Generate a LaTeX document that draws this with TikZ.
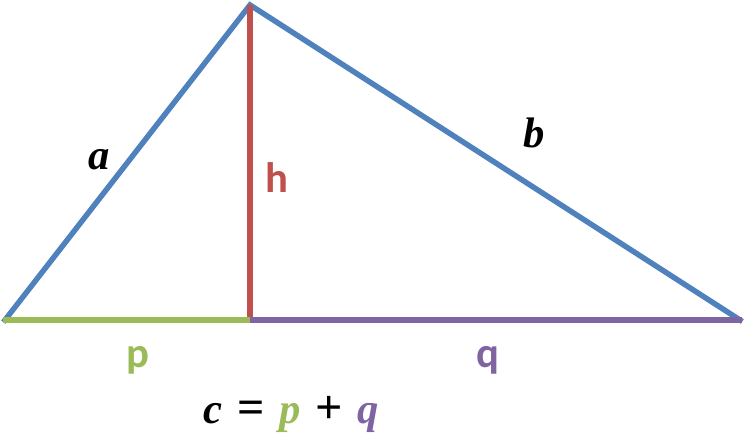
\documentclass[tikz,border=0pt]{standalone}
\usepackage{fontspec}
\newfontfamily\calibri{Carlito}
\newfontfamily\cambria{Liberation Serif}
\definecolor{sideblue}{RGB}{79,129,189}
\definecolor{heightred}{RGB}{192,80,77}
\definecolor{pgreen}{RGB}{155,187,89}
\definecolor{qpurple}{RGB}{128,100,162}
\newcommand{\oper}[1]{\hspace{3pt}{\upshape\fontsize{36}{40}\selectfont #1}\hspace{3pt}}
\tikzset{
  side/.style={line width=4.1pt, line cap=rect},
  sidelabel/.style={anchor=base, inner sep=0.75pt, font=\cambria\bfseries\itshape\fontsize{32}{38}\selectfont},
  partlabel/.style={anchor=base, inner sep=0.75pt, font=\calibri\bfseries\fontsize{32}{38}\selectfont}
}
\begin{document}
\begin{tikzpicture}[x=0.75pt,y=0.75pt,yscale=-1,xscale=1]
\useasboundingbox (0,0) rectangle (744,439);

% Corners
\coordinate (A) at (5,320);
\coordinate (C) at (250,5);
\coordinate (B) at (740,320);
\coordinate (H) at (250,320);

%Straight Lines
\draw [side, color=sideblue] (A) -- (C) -- (B) ;
%Straight Lines
\draw [side, color=heightred, line cap=butt] (C) -- (H) ;
%Straight Lines
\draw [side, color=pgreen, line cap=butt] (3,320) -- (H) ;
%Straight Lines
\draw [side, color=qpurple, line cap=butt] (H) -- (742,320) ;

% Text Node
\node [sidelabel] (la) at (99,169) {a};
% Text Node
\node [sidelabel] (lb) at (534,147) {b};
% Text Node
\node [partlabel, text=heightred] (lh) at (277,192) {h};
% Text Node
\node [partlabel, text=pgreen] (lp) at (138,367) {p};
% Text Node
\node [partlabel, text=qpurple] (lq) at (488,367) {q};
% Text Node
\node [sidelabel] (lc) at (291,423) {c \oper{=} {\color{pgreen}p} \oper{+} {\color{qpurple}q}};

\end{tikzpicture}
\end{document}
